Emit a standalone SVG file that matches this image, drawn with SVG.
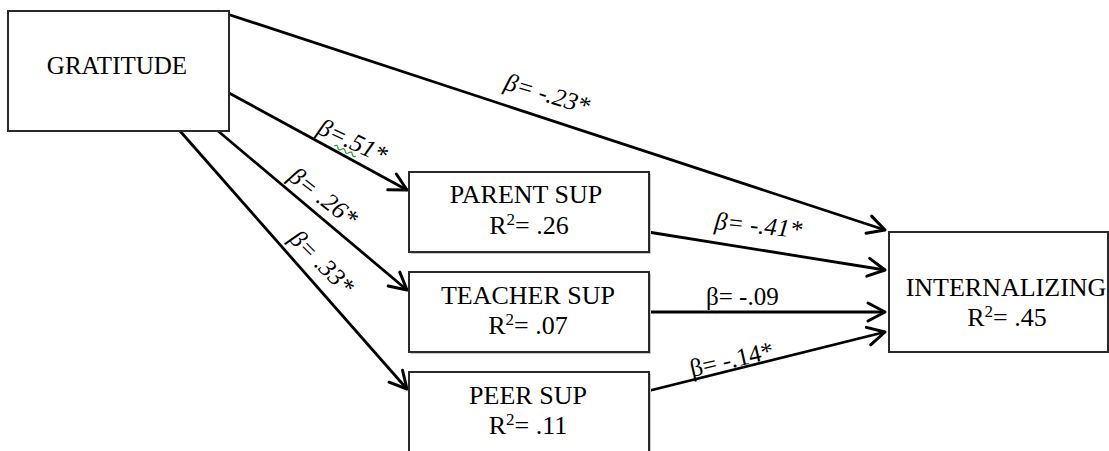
<svg xmlns="http://www.w3.org/2000/svg" width="1109" height="451" viewBox="0 0 1109 451" font-family="'Liberation Serif', serif">
<style>
.box{fill:#fff;stroke:#2a2a2a;stroke-width:2}
.shadow{fill:#c8c8c8}
.node{font-size:26px;fill:#000}
.lbl{font-size:25px;fill:#000}
.it{font-style:italic}
.edge{stroke:#000;stroke-width:2.8;fill:none;marker-end:url(#arr)}
</style>
<defs>
<marker id="arr" markerUnits="userSpaceOnUse" markerWidth="40" markerHeight="40" viewBox="-20 -20 40 40" refX="0" refY="0" orient="auto">
<path d="M-17,-9 L0,0 L-17,9" fill="none" stroke="#000" stroke-width="3" stroke-linecap="round" stroke-linejoin="round"/>
</marker>
</defs>
<rect width="1109" height="451" fill="#fff"/>

<g id="connectors">
<line class="edge" x1="218" y1="11" x2="885" y2="230"/>
<line class="edge" x1="229" y1="93" x2="407" y2="190"/>
<line class="edge" x1="218" y1="131" x2="407" y2="290"/>
<line class="edge" x1="180" y1="131" x2="407" y2="389"/>
<line class="edge" x1="648" y1="232" x2="885" y2="270"/>
<line class="edge" x1="648" y1="312" x2="885" y2="312"/>
<line class="edge" x1="648" y1="391" x2="885" y2="332"/>
<text class="lbl it" transform="translate(503,89) rotate(17)">β= -.23*</text>
<g transform="translate(316,133) rotate(25)">
<text class="lbl it" x="0" y="0">β=.51*</text>
<path d="M22,4 q2,-3 4,0 t4,0 t4,0 t4,0 t4,0 t4,0" fill="none" stroke="#3a9a3a" stroke-width="1.3"/>
</g>
<text class="lbl it" transform="translate(287,179) rotate(38)">β= .26*</text>
<text class="lbl it" transform="translate(288,240) rotate(45)">β= .33*</text>
<text class="lbl it" transform="translate(714,229) rotate(6)">β= -.41*</text>
<text class="lbl" x="706" y="305">β= -.09</text>
<text class="lbl" transform="translate(692,377) rotate(-13)">β= -.14*</text>
</g>

<g id="gratitude">
<rect class="box" x="8" y="11" width="221" height="120"/>
<text class="node" x="117" y="74" text-anchor="middle" style="font-size:25px">GRATITUDE</text>
</g>

<g id="parent-sup">
<rect class="shadow" x="411" y="174" width="240" height="80"/>
<rect class="box" x="409" y="172" width="240" height="80"/>
<text class="node" x="526" y="203" text-anchor="middle">PARENT SUP</text>
<text class="node" x="529" y="234" text-anchor="middle">R<tspan style="font-size:17px" dy="-9">2</tspan><tspan dy="9">= .26</tspan></text>
</g>

<g id="teacher-sup">
<rect class="shadow" x="411" y="274" width="240" height="80"/>
<rect class="box" x="409" y="272" width="240" height="80"/>
<text class="node" x="528" y="304" text-anchor="middle">TEACHER SUP</text>
<text class="node" x="528" y="334" text-anchor="middle">R<tspan style="font-size:17px" dy="-9">2</tspan><tspan dy="9">= .07</tspan></text>
</g>

<g id="peer-sup">
<rect class="shadow" x="411" y="374" width="240" height="80"/>
<rect class="box" x="409" y="372" width="240" height="80"/>
<text class="node" x="528" y="404" text-anchor="middle">PEER SUP</text>
<text class="node" x="528" y="434" text-anchor="middle">R<tspan style="font-size:17px" dy="-9">2</tspan><tspan dy="9">= .11</tspan></text>
</g>

<g id="internalizing">
<rect class="box" x="889" y="232" width="219" height="120"/>
<text class="node" x="1006" y="296" text-anchor="middle">INTERNALIZING</text>
<text class="node" x="1007" y="326" text-anchor="middle">R<tspan style="font-size:17px" dy="-9">2</tspan><tspan dy="9">= .45</tspan></text>
</g>
</svg>
